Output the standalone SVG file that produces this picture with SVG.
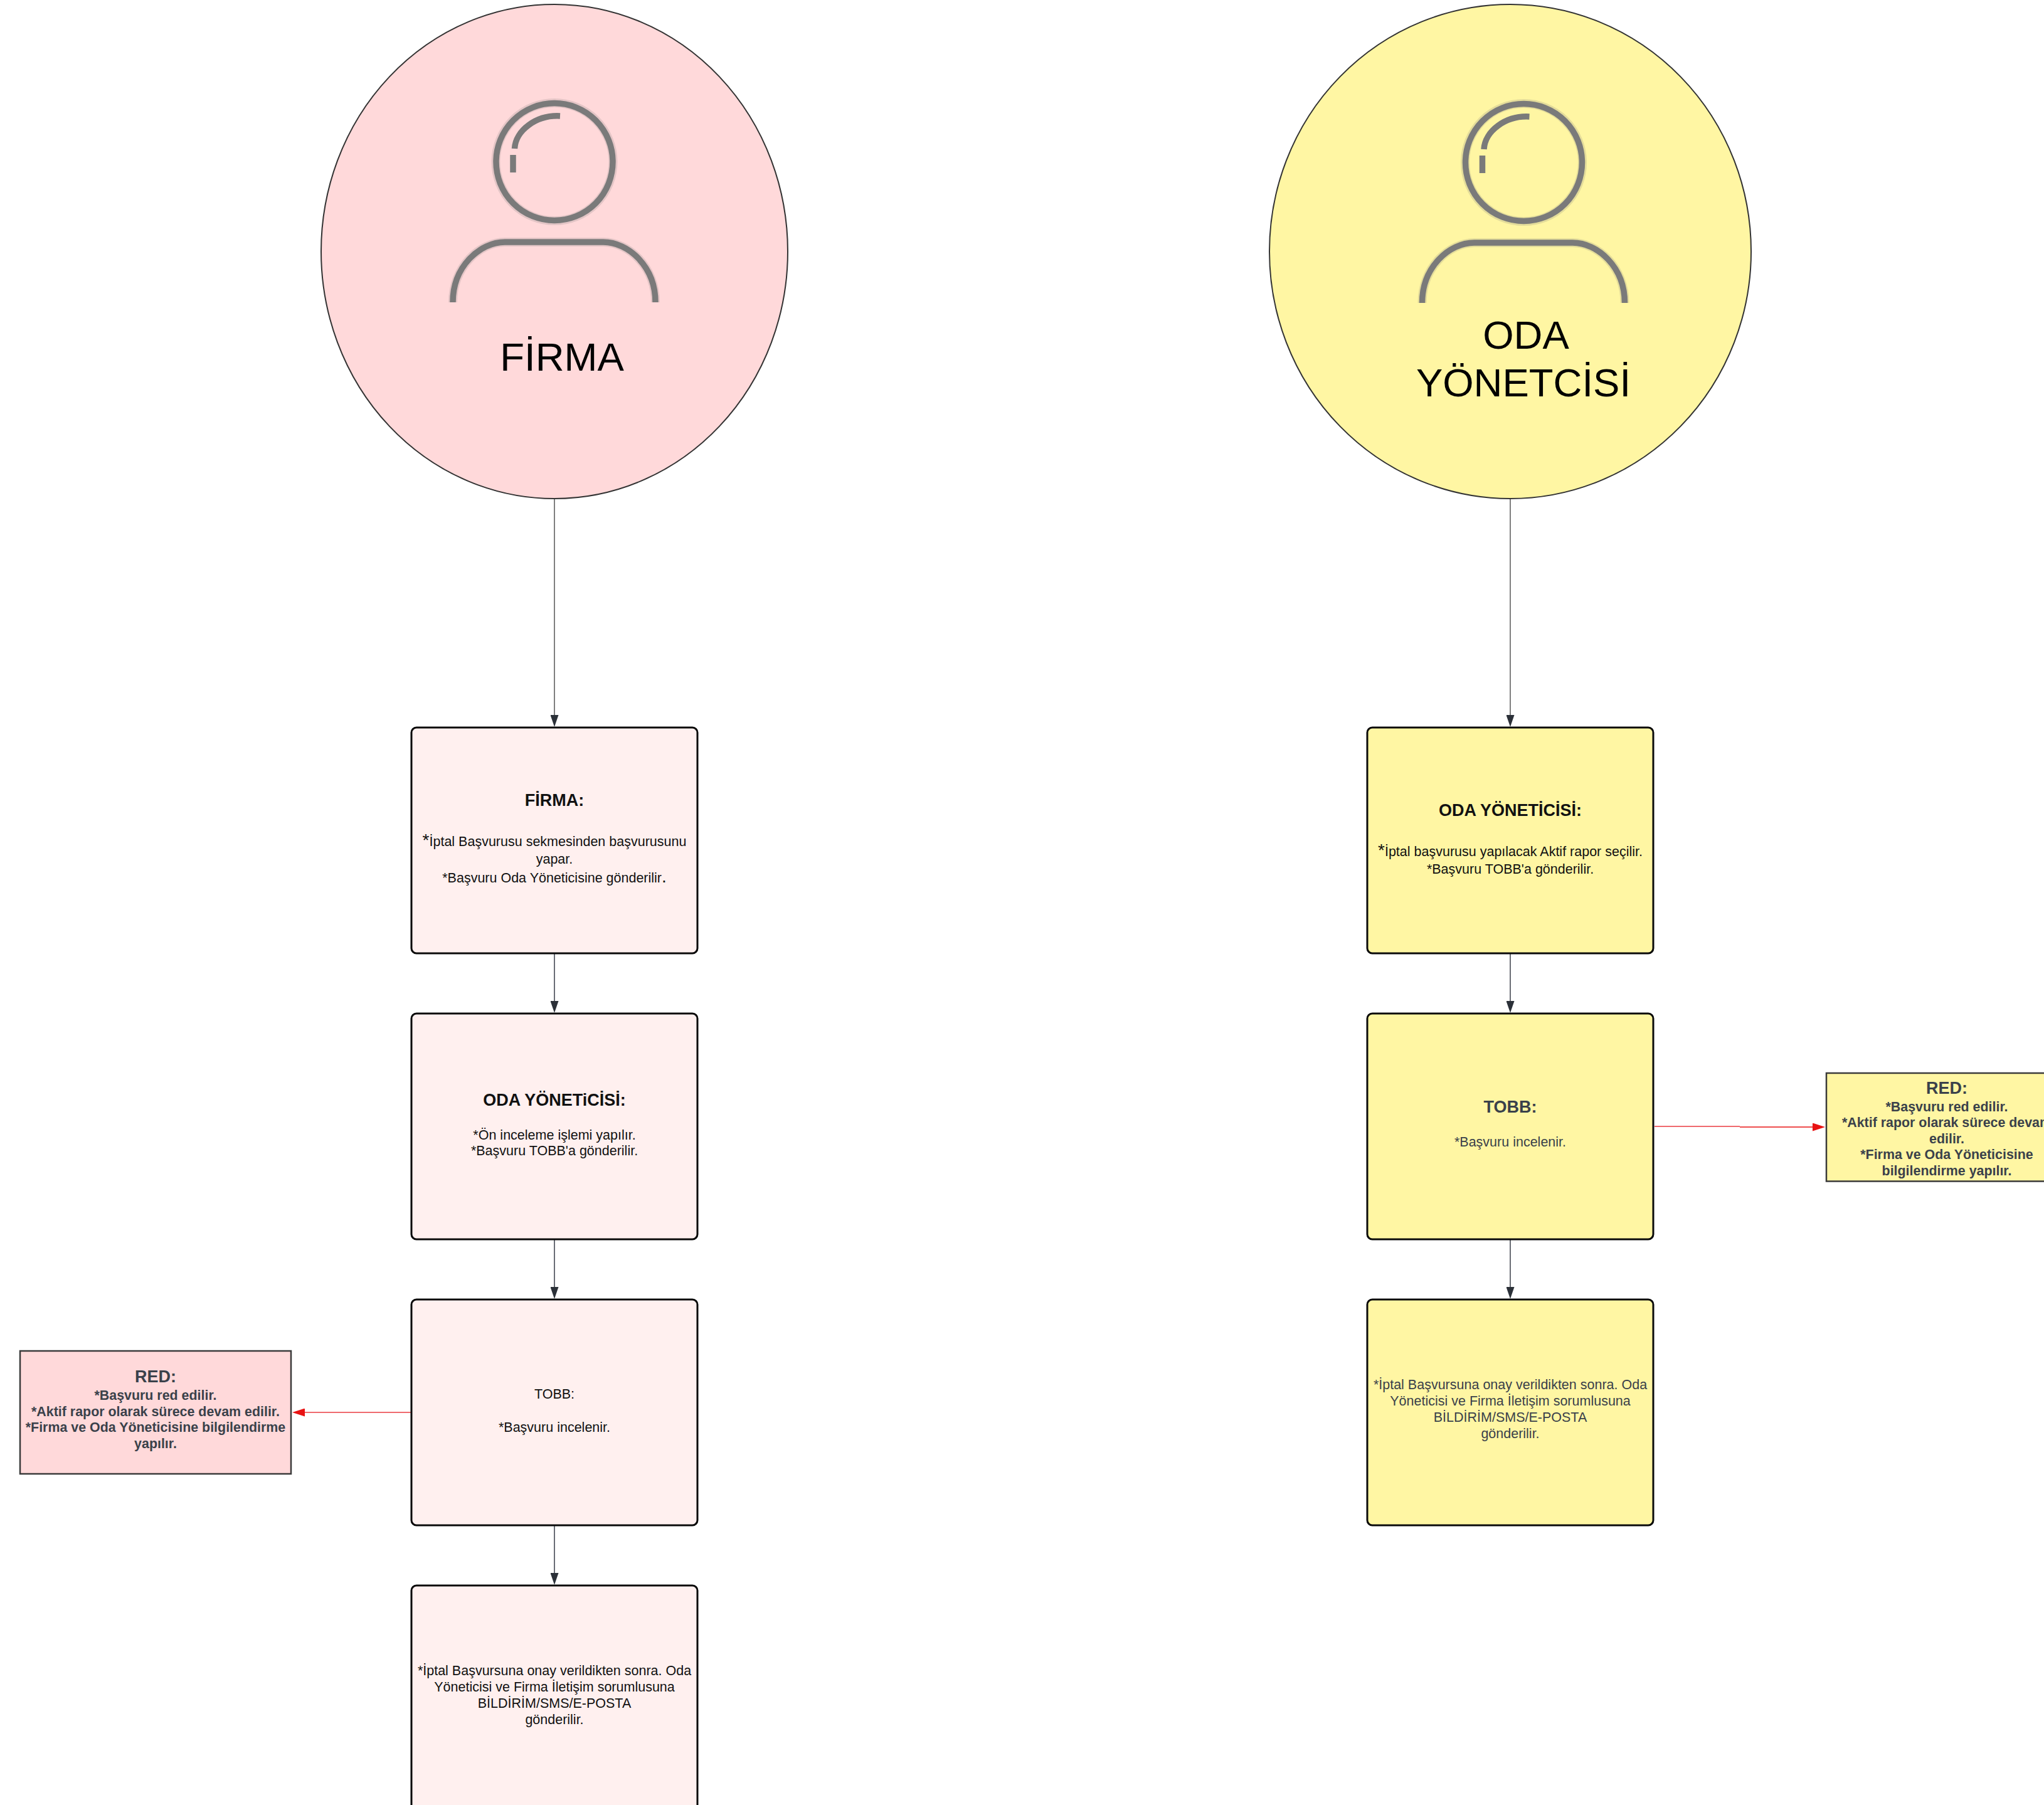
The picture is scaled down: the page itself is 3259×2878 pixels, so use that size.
<svg xmlns="http://www.w3.org/2000/svg" xmlns:xlink="http://www.w3.org/1999/xlink" width="3259" height="2878" viewBox="0 0 3259 2878">
<style>
text{font-family:"Liberation Sans",Arial,sans-serif;text-anchor:middle;fill:#111}
.b{font-size:21.5px}
.t{font-size:27px;font-weight:700}
.big{font-size:63.5px;fill:#000}
.d{fill:#3a414a}
.rb{font-size:21.4px;font-weight:700;fill:#3a414a}
.rt{font-size:27px;font-weight:700;fill:#3a414a}
.star{font-size:28px}
.circ{stroke:#333;stroke-width:2}
.box{stroke:#0a0a0a;stroke-width:3}
.pk{fill:#fff0ef}
.ye{fill:#fff6a3}
.red{stroke:#3a3a3a;stroke-width:2.500}
.conn{fill:none;stroke:#6a6d75;stroke-width:2}
.thin{stroke:#555;stroke-width:1.500}
.rc{fill:none;stroke:#ef6a6e;stroke-width:2}
.ic{fill:none;stroke:#7a7a7a;stroke-width:9.500}
.icb{fill:none;stroke:#7a7a7a;stroke-width:14;opacity:.2}
</style>
<defs>
<marker id="ah" markerUnits="userSpaceOnUse" markerWidth="19" markerHeight="13" refX="1" refY="6.500" orient="auto"><path d="M0,0L19,6.500L0,13z" fill="#2b3038"/></marker>
<marker id="ar" markerUnits="userSpaceOnUse" markerWidth="20" markerHeight="13" refX="1" refY="6.500" orient="auto"><path d="M0,0L20,6.500L0,13z" fill="#e81313"/></marker>
<g id="person">
<g class="icb"><ellipse cx="884" cy="258" rx="93.500" ry="94"/><path d="M722,482C722,425 765,386 805,386H962C1002,386 1045,425 1045,482"/></g>
<g class="ic"><ellipse cx="884" cy="258" rx="93" ry="93.500"/><path d="M893,185C855,183 822,208 820.500,237"/><path d="M818,247V275"/><path d="M722,482C722,425 765,386 805,386H962C1002,386 1045,425 1045,482"/></g>
</g>
</defs>
<g id="connectors">
<path class="conn thin" d="M884,796V1141" marker-end="url(#ah)"/>
<path class="conn" d="M884,1521V1597" marker-end="url(#ah)"/>
<path class="conn" d="M884,1977V2053" marker-end="url(#ah)"/>
<path class="conn" d="M884,2433V2509" marker-end="url(#ah)"/>
<path class="conn thin" d="M2408,796V1141" marker-end="url(#ah)"/>
<path class="conn" d="M2408,1521V1597" marker-end="url(#ah)"/>
<path class="conn" d="M2408,1977V2053" marker-end="url(#ah)"/>
<path class="rc" d="M655,2252H485" marker-end="url(#ar)"/>
<path class="rc" d="M2638,1796H2774"/>
<path d="M2774,1797H2891" fill="none" stroke="#e81313" stroke-width="1.500" marker-end="url(#ar)"/>
</g>
<g id="actor-firma">
<ellipse class="circ" cx="884" cy="401" rx="372" ry="394" fill="#ffd9da"/>
<use xlink:href="#person" href="#person"/>
<text class="big" x="896" y="590.500">FİRMA</text>
</g>
<g id="actor-oda">
<ellipse class="circ" cx="2408" cy="401" rx="384" ry="394" fill="#fff6a3"/>
<use xlink:href="#person" href="#person" x="1545.500" y="1"/>
<text class="big" x="2433" y="555.500">ODA</text>
<text class="big" x="2429" y="632">YÖNETCİSİ</text>
</g>
<g id="firma-1">
<rect class="box pk" x="656" y="1160" width="456" height="360" rx="8"/>
<text class="t" x="884" y="1285">FİRMA:</text>
<text class="b" x="884" y="1349"><tspan class="star">*</tspan>İptal Başvurusu sekmesinden başvurusunu</text>
<text class="b" x="884" y="1377">yapar.</text>
<text class="b" x="884" y="1406.500">*Başvuru Oda Yöneticisine gönderilir<tspan class="star">.</tspan></text>
</g>
<g id="firma-2">
<rect class="box pk" x="656" y="1616" width="456" height="360" rx="8"/>
<text class="t" x="884" y="1763">ODA YÖNETiCİSİ:</text>
<text class="b" x="884" y="1816.500">*Ön inceleme işlemi yapılır.</text>
<text class="b" x="884" y="1842">*Başvuru TOBB'a gönderilir.</text>
</g>
<g id="firma-3">
<rect class="box pk" x="656" y="2072" width="456" height="360" rx="8"/>
<text class="b" x="884" y="2230">TOBB:</text>
<text class="b" x="884" y="2283">*Başvuru incelenir.</text>
</g>
<g id="firma-4">
<rect class="box pk" x="656" y="2528" width="456" height="360" rx="8"/>
<text class="b" x="884" y="2670.500">*İptal Başvursuna onay verildikten sonra. Oda</text>
<text class="b" x="884" y="2696.500">Yöneticisi ve Firma İletişim sorumlusuna</text>
<text class="b" x="884" y="2722.500">BİLDİRİM/SMS/E-POSTA</text>
<text class="b" x="884" y="2748.500">gönderilir.</text>
</g>
<g id="firma-red">
<rect class="red" x="32" y="2154" width="432" height="196" fill="#ffd9da"/>
<text class="rt" x="248" y="2204">RED:</text>
<text class="rb" x="248" y="2231.500">*Başvuru red edilir.</text>
<text class="rb" x="248" y="2257.500">*Aktif rapor olarak sürece devam edilir.</text>
<text class="rb" x="248" y="2283">*Firma ve Oda Yöneticisine bilgilendirme</text>
<text class="rb" x="248" y="2309">yapılır.</text>
</g>
<g id="oda-1">
<rect class="box ye" x="2180" y="1160" width="456" height="360" rx="8"/>
<text class="t" x="2408" y="1301">ODA YÖNETİCİSİ:</text>
<text class="b" x="2408" y="1365"><tspan class="star">*</tspan>İptal başvurusu yapılacak Aktif rapor seçilir.</text>
<text class="b" x="2408" y="1393">*Başvuru TOBB'a gönderilir.</text>
</g>
<g id="oda-2">
<rect class="box ye" x="2180" y="1616" width="456" height="360" rx="8"/>
<text class="rt" x="2408" y="1774">TOBB:</text>
<text class="b d" x="2408" y="1827.500">*Başvuru incelenir.</text>
</g>
<g id="oda-3">
<rect class="box ye" x="2180" y="2072" width="456" height="360" rx="8"/>
<text class="b d" x="2408" y="2214.500">*İptal Başvursuna onay verildikten sonra. Oda</text>
<text class="b d" x="2408" y="2240.500">Yöneticisi ve Firma İletişim sorumlusuna</text>
<text class="b d" x="2408" y="2266.500">BİLDİRİM/SMS/E-POSTA</text>
<text class="b d" x="2408" y="2292.500">gönderilir.</text>
</g>
<g id="oda-red">
<rect class="red" x="2912" y="1711" width="400" height="172.500" fill="#fff6a3"/>
<text class="rt" x="3104" y="1744">RED:</text>
<text class="rb" x="3104" y="1771.500">*Başvuru red edilir.</text>
<text class="rb" x="3104" y="1797">*Aktif rapor olarak sürece devam</text>
<text class="rb" x="3104" y="1822.500">edilir.</text>
<text class="rb" x="3104" y="1848">*Firma ve Oda Yöneticisine</text>
<text class="rb" x="3104" y="1874">bilgilendirme yapılır.</text>
</g>
</svg>
